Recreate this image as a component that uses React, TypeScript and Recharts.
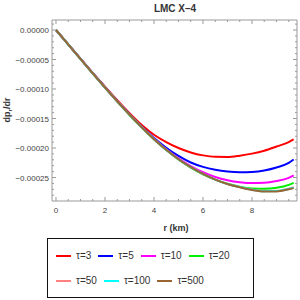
import React from "react";
import { LineChart, Line, XAxis, YAxis } from "recharts";

const R = [0, 0.5, 1, 1.5, 2, 2.5, 3, 3.5, 4, 4.5, 5, 5.5, 6, 6.5, 7, 7.5, 8, 8.5, 9, 9.5, 9.7];

const tau3 = [0, -0.0000243, -0.0000485, -0.0000725, -0.000096, -0.000119, -0.000141, -0.000161, -0.0001775, -0.00019, -0.0002, -0.0002075, -0.0002125, -0.000215, -0.0002152, -0.000213, -0.0002095, -0.0002045, -0.0001975, -0.00019, -0.0001855];
const tau5 = [0, -0.0000244, -0.0000488, -0.000073, -0.000097, -0.0001205, -0.000143, -0.000164, -0.000183, -0.0001995, -0.0002135, -0.0002245, -0.000232, -0.000237, -0.00024, -0.0002412, -0.0002405, -0.000238, -0.000233, -0.000225, -0.0002195];
const tau10 = [0, -0.0000245, -0.000049, -0.0000733, -0.0000973, -0.0001208, -0.0001433, -0.0001645, -0.0001843, -0.000202, -0.0002175, -0.0002305, -0.000241, -0.000249, -0.0002545, -0.000258, -0.0002595, -0.000259, -0.000256, -0.0002505, -0.0002465];
const tau20 = [0, -0.0000246, -0.0000492, -0.0000737, -0.0000978, -0.0001214, -0.000144, -0.0001653, -0.0001853, -0.0002035, -0.0002195, -0.0002332, -0.0002445, -0.0002535, -0.0002605, -0.0002655, -0.0002685, -0.0002692, -0.0002675, -0.0002625, -0.000259];
const tau50 = [0, -0.0000245, -0.000049, -0.0000735, -0.0000975, -0.000121, -0.0001435, -0.000165, -0.000185, -0.000203, -0.000219, -0.0002325, -0.000244, -0.0002535, -0.000261, -0.0002662, -0.0002705, -0.0002728, -0.0002725, -0.0002688, -0.0002665];
const tau100 = [0, -0.0000245, -0.000049, -0.0000735, -0.0000975, -0.000121, -0.0001435, -0.000165, -0.000185, -0.000203, -0.000219, -0.0002325, -0.000244, -0.0002535, -0.000261, -0.0002663, -0.0002707, -0.0002731, -0.000273, -0.0002694, -0.0002672];
const tau500 = [0, -0.0000245, -0.000049, -0.0000735, -0.0000975, -0.000121, -0.0001435, -0.000165, -0.000185, -0.000203, -0.000219, -0.0002325, -0.000244, -0.0002535, -0.000261, -0.0002665, -0.000271, -0.0002735, -0.0002735, -0.00027, -0.000268];

const SERIES = [
  { key: "t3", label: "τ=3", color: "#ff0000", values: tau3 },
  { key: "t5", label: "τ=5", color: "#0000ff", values: tau5 },
  { key: "t10", label: "τ=10", color: "#ff00ff", values: tau10 },
  { key: "t20", label: "τ=20", color: "#00ee00", values: tau20 },
  { key: "t50", label: "τ=50", color: "#ff8080", values: tau50 },
  { key: "t100", label: "τ=100", color: "#00ffff", values: tau100 },
  { key: "t500", label: "τ=500", color: "#996633", values: tau500 },
];

const X_MAJOR = [0, 2, 4, 6, 8];
const Y_MAJOR = [0, -0.00005, -0.0001, -0.00015, -0.0002, -0.00025];
const X_DOMAIN = [-0.163, 9.837];
const Y_DOMAIN = [-0.0002898, 0.00001695];

const X_TICKS: number[] = [];
for (let i = 0; i <= 19; i++) X_TICKS.push(i * 0.5);
const Y_TICKS: number[] = [];
for (let i = -28; i <= 1; i++) Y_TICKS.push(i * 0.00001);

const data = R.map((r, i) => {
  const row: Record<string, number> = { r };
  SERIES.forEach((s) => (row[s.key] = s.values[i]));
  return row;
});

const FRAME = "#9a9a9a";
const LABEL = "#444";
const FONT = "'Liberation Sans', Arial, sans-serif";

const isMajor = (v: number, list: number[], tol: number) => list.some((m) => Math.abs(m - v) < tol);
const fmtY = (v: number) => {
  const s = Math.abs(v).toFixed(5);
  return v < -1e-9 ? "\u2212" + s : s;
};

const BottomTick = (p: any) => {
  const major = isMajor(p.payload.value, X_MAJOR, 1e-6);
  return (
    <g>
      <line x1={p.x} x2={p.x} y1={p.y} y2={p.y - (major ? 4 : 2)} stroke={FRAME} />
      {major && (
        <text x={p.x} y={p.y + 12} textAnchor="middle" fontSize={8} fill={LABEL} fontFamily={FONT}>
          {p.payload.value}
        </text>
      )}
    </g>
  );
};
const TopTick = (p: any) => {
  const major = isMajor(p.payload.value, X_MAJOR, 1e-6);
  return <line x1={p.x} x2={p.x} y1={p.y} y2={p.y + (major ? 4 : 2)} stroke={FRAME} />;
};
const LeftTick = (p: any) => {
  const major = isMajor(p.payload.value, Y_MAJOR, 1e-9);
  return (
    <g>
      <line x1={p.x} x2={p.x + (major ? 4 : 2)} y1={p.y} y2={p.y} stroke={FRAME} />
      {major && (
        <text x={p.x - 3} y={p.y + 3} textAnchor="end" fontSize={8} fill={LABEL} fontFamily={FONT}>
          {fmtY(p.payload.value)}
        </text>
      )}
    </g>
  );
};
const RightTick = (p: any) => {
  const major = isMajor(p.payload.value, Y_MAJOR, 1e-9);
  return <line x1={p.x} x2={p.x - (major ? 4 : 2)} y1={p.y} y2={p.y} stroke={FRAME} />;
};

const LEGEND_ROWS = [SERIES.slice(0, 4), SERIES.slice(4)];

export default function App() {
  return (
    <div style={{ position: "absolute", left: 0, top: 0, width: 300, height: 300, background: "#fff", fontFamily: FONT }}>
      <LineChart width={300} height={300} data={data} margin={{ top: 15, right: 0, bottom: 79, left: 12 }}>
        <XAxis xAxisId="b" dataKey="r" type="number" domain={X_DOMAIN} allowDataOverflow ticks={X_TICKS} interval={0}
          height={20} tickSize={0} tickMargin={0} tick={<BottomTick />} axisLine={{ stroke: FRAME }} tickLine={false} />
        <XAxis xAxisId="t" orientation="top" dataKey="r" type="number" domain={X_DOMAIN} allowDataOverflow ticks={X_TICKS} interval={0}
          height={5} tickSize={0} tickMargin={0} tick={<TopTick />} axisLine={{ stroke: FRAME }} tickLine={false} />
        <YAxis yAxisId="l" type="number" domain={Y_DOMAIN} allowDataOverflow ticks={Y_TICKS} interval={0}
          width={40} tickSize={0} tickMargin={0} tick={<LeftTick />} axisLine={{ stroke: FRAME }} tickLine={false} />
        <YAxis yAxisId="rt" orientation="right" type="number" domain={Y_DOMAIN} allowDataOverflow ticks={Y_TICKS} interval={0}
          width={3} tickSize={0} tickMargin={0} tick={<RightTick />} axisLine={{ stroke: FRAME }} tickLine={false} />
        {SERIES.map((s) => (
          <Line key={s.key} xAxisId="b" yAxisId="l" type="monotone" dataKey={s.key} stroke={s.color}
            strokeWidth={2} dot={false} isAnimationActive={false} />
        ))}
      </LineChart>
      <svg width={300} height={300} style={{ position: "absolute", left: 0, top: 0, pointerEvents: "none" }}>
        <text x={175} y={12} textAnchor="middle" fontSize={10} fontWeight="bold" fill="#333" fontFamily={FONT}>LMC X–4</text>
        <text x={176} y={231} textAnchor="middle" fontSize={9} fontWeight="bold" fill="#333" fontFamily={FONT}>r (km)</text>
        <text transform="translate(10,110) rotate(-90)" textAnchor="middle" fontSize={9} fontWeight="bold" fill="#333" fontFamily={FONT}>
          dp<tspan fontSize={6} dy={2}>r</tspan><tspan dy={-2}>/dr</tspan>
        </text>
      </svg>
      <div style={{ position: "absolute", left: 47, top: 238, width: 205, height: 58, border: "1.5px solid #111", boxSizing: "content-box" }}>
        {LEGEND_ROWS.map((row, ri) => (
          <div key={ri} style={{ position: "absolute", left: 0, top: ri === 0 ? 10 : 35, height: 14, display: "flex", alignItems: "center" }}>
            {row.map((s, i) => (
              <div key={s.key} style={{ display: "flex", alignItems: "center", marginLeft: i === 0 ? 8 : 7 }}>
                <div style={{ width: 15, height: 2, background: s.color }} />
                <span style={{ marginLeft: 5, fontSize: 10, color: "#333", lineHeight: "14px" }}>{s.label}</span>
              </div>
            ))}
          </div>
        ))}
      </div>
    </div>
  );
}
